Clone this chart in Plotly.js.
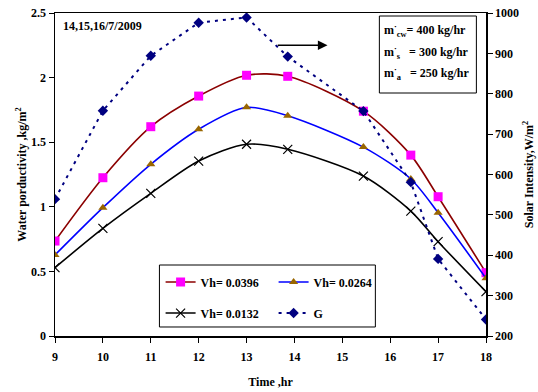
<!DOCTYPE html>
<html>
<head>
<meta charset="utf-8">
<script src="https://cdn.plot.ly/plotly-3.0.1.min.js"></script>
<style>html,body{margin:0;padding:0;background:#fff;}#chart{width:538px;height:392px;}</style>
</head>
<body>
<div id="chart"></div>
<script>
// Time (hr) of each reading
const timeHr = [9, 10, 11, 12, 13, 13.86, 15.44, 16.43, 17, 18];
// Water productivity, kg/m2
const vh0396 = [0.735, 1.225, 1.62, 1.857, 2.018, 2.01, 1.74, 1.40, 1.078, 0.49];
const vh0264 = [0.627, 0.993, 1.329, 1.60, 1.77, 1.705, 1.462, 1.215, 0.954, 0.447];
const vh0132 = [0.529, 0.833, 1.104, 1.354, 1.484, 1.445, 1.238, 0.967, 0.73, 0.343];
// Solar intensity, W/m2
const solarG = [539, 758, 894, 976, 989, 892, 757, 581, 391, 241];

const seriesNames = ["Vh= 0.0396", "Vh= 0.0264", "Vh= 0.0132", "G"];
const xTicks = [9, 10, 11, 12, 13, 14, 15, 16, 17, 18];

const FONT = "'Liberation Serif', 'Times New Roman', serif";
const baseFont = {family: FONT, size: 12, color: '#000', weight: 'bold'};

const traces = [
  {x: timeHr, y: vh0396, name: seriesNames[0], mode: 'lines+markers', yaxis: 'y', legend: 'legend',
   line: {color: '#8B0000', width: 1.6, shape: 'spline', smoothing: 0.8},
   marker: {symbol: 'square', size: 9, color: '#FF00FF'}},
  {x: timeHr, y: vh0264, name: seriesNames[1], mode: 'lines+markers', yaxis: 'y', legend: 'legend',
   line: {color: '#0000FF', width: 1.6, shape: 'spline', smoothing: 0.8},
   marker: {symbol: 'triangle-up', size: 8, color: '#996600'}},
  {x: timeHr, y: vh0132, name: seriesNames[2], mode: 'lines+markers', yaxis: 'y', legend: 'legend2',
   line: {color: '#000000', width: 1.6, shape: 'spline', smoothing: 0.8},
   marker: {symbol: 'x-thin-open', size: 9, color: '#000', line: {width: 1.2, color: '#000'}}},
  {x: timeHr, y: solarG, name: seriesNames[3], mode: 'lines+markers', yaxis: 'y2', legend: 'legend2',
   line: {color: '#000080', width: 2, dash: '3px,5px'},
   marker: {symbol: 'diamond', size: 8, color: '#000080'}}
];

const legendCommon = {
  orientation: 'h', xanchor: 'left', yanchor: 'middle',
  bgcolor: 'rgba(0,0,0,0)', borderwidth: 0,
  font: baseFont, entrywidth: 68, entrywidthmode: 'pixels', tracegroupgap: 0
};

const layout = {
  width: 538, height: 392,
  margin: {l: 54.5, r: 52.3, t: 13, b: 56},
  paper_bgcolor: '#fff', plot_bgcolor: '#fff',
  font: baseFont,
  showlegend: true,
  legend: Object.assign({}, legendCommon, {x: 0.245, y: 0.167}),
  legend2: Object.assign({}, legendCommon, {x: 0.245, y: 0.071}),
  xaxis: {
    range: [9, 18], tickvals: xTicks, ticktext: xTicks.map(String),
    showgrid: false, zeroline: false, showline: true, linecolor: '#000', linewidth: 1.5,
    mirror: true, ticks: 'outside', ticklen: 5, tickcolor: '#000', tickwidth: 1,
    ticklabelstandoff: 4,
    tickfont: baseFont,
    title: {text: 'Time ,hr', font: baseFont, standoff: 14}
  },
  yaxis: {
    range: [0, 2.5], dtick: 0.5, tick0: 0,
    showgrid: false, zeroline: false, showline: true, linecolor: '#000', linewidth: 1.5,
    ticks: 'outside', ticklen: 5, tickcolor: '#000', tickwidth: 1,
    tickfont: baseFont,
    title: {text: 'Water porductivity ,kg/m<sup>2</sup>', font: baseFont, standoff: 2}
  },
  yaxis2: {
    range: [200, 1000], dtick: 100, tick0: 200, overlaying: 'y', side: 'right',
    showgrid: false, zeroline: false, showline: true, linecolor: '#000', linewidth: 1.5,
    ticks: 'outside', ticklen: 5, tickcolor: '#000', tickwidth: 1,
    tickfont: baseFont,
    title: {text: 'Solar Intensity,W/m<sup>2</sup>', font: baseFont, standoff: 6}
  },
  shapes: [
    {type: 'rect', xref: 'paper', yref: 'paper', x0: 0.2423, x1: 0.7433, y0: 0.0279, y1: 0.2198,
     line: {color: '#000', width: 1}, fillcolor: '#fff', layer: 'below'},
    {type: 'rect', xref: 'paper', yref: 'paper', x0: 0.7526, x1: 0.9777, y0: 0.7523, y1: 0.9907,
     line: {color: '#000', width: 1}, fillcolor: '#fff', layer: 'below'}
  ],
  annotations: [
    {xref: 'paper', yref: 'paper', x: 0.015, y: 0.96, xanchor: 'left', yanchor: 'middle',
     text: '14,15,16/7/2009', showarrow: false, font: baseFont},
    {xref: 'paper', yref: 'paper', x: 0.758, y: 0.947, xanchor: 'left', yanchor: 'middle',
     text: 'm<sup>·</sup><sub>cw</sub>= 400 kg/hr', showarrow: false, font: baseFont},
    {xref: 'paper', yref: 'paper', x: 0.758, y: 0.879, xanchor: 'left', yanchor: 'middle',
     text: 'm<sup>·</sup><sub>s</sub>&nbsp;&nbsp;&nbsp;= 300 kg/hr', showarrow: false, font: baseFont},
    {xref: 'paper', yref: 'paper', x: 0.758, y: 0.814, xanchor: 'left', yanchor: 'middle',
     text: 'm<sup>·</sup><sub>a</sub>&nbsp;&nbsp;&nbsp;= 250 kg/hr', showarrow: false, font: baseFont},
    {xref: 'x', yref: 'y', x: 14.69, y: 2.25, axref: 'x', ayref: 'y', ax: 13.62, ay: 2.25,
     text: '', showarrow: true, arrowhead: 2, arrowsize: 1.2, arrowwidth: 1.6, arrowcolor: '#000'}
  ]
};

Plotly.newPlot('chart', traces, layout, {displayModeBar: false, staticPlot: true});
</script>
</body>
</html>
